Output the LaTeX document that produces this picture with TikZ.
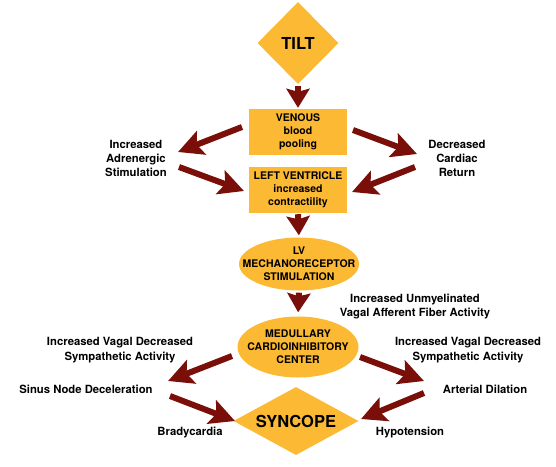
\documentclass[tikz,border=0pt]{standalone}
\usepackage{fontspec}
\setmainfont{TeX Gyre Heros}
\usetikzlibrary{arrows.meta,shapes.geometric}
\definecolor{boxfill}{RGB}{252,185,52}
\definecolor{arrowred}{RGB}{122,14,8}
\begin{document}
\begin{tikzpicture}[x=1pt,y=-1pt,
  bigarrow/.style={draw=arrowred, line width=6pt, -{Stealth[length=25pt,width=25pt,inset=5pt,fill=arrowred]}},
  vertarrow/.style={draw=arrowred, line width=6pt, -{Stealth[length=19pt,width=23pt,inset=3pt,fill=arrowred]}},
  boxnode/.style={rectangle, fill=boxfill, minimum width=98pt, minimum height=46pt, inner sep=0pt, align=center, font=\fontsize{10.5}{13}\selectfont\bfseries},
  ellnode/.style={ellipse, fill=boxfill, inner sep=0pt},
  elltext/.style={align=center, inner sep=0pt, font=\fontsize{10.5}{13.2}\selectfont\bfseries},
  lbl/.style={align=center, inner sep=1pt, font=\fontsize{11.3}{14}\selectfont\bfseries}]
\useasboundingbox (0,0) rectangle (556,466);
% main nodes
\node[diamond, fill=boxfill, aspect=1, minimum width=81pt, minimum height=82pt, inner sep=0pt,
      font=\fontsize{16.5}{18}\selectfont\bfseries] (tilt) at (298,43) {TILT};
\node[boxnode] (venous) at (298,132) {VENOUS\\blood\\pooling};
\node[boxnode] (lvbox) at (298,190) {LEFT VENTRICLE\\increased\\contractility};
\node[ellnode, minimum width=120pt, minimum height=53pt] (lv) at (299,264) {};
\node[elltext] (lvtext) at (lv.center) {LV\\MECHANORECEPTOR\\STIMULATION};
\node[ellnode, minimum width=121pt, minimum height=61pt] (med) at (298,347) {};
\node[elltext] (medtext) at (med.center) {MEDULLARY\\CARDIOINHIBITORY\\CENTER};
\node[diamond, fill=boxfill, aspect=1.8, minimum width=125pt, minimum height=68pt, inner sep=0pt,
      font=\fontsize{16.5}{18}\selectfont\bfseries] (syn) at (296,421) {SYNCOPE};
% labels
\node[lbl] (adr) at (136,158) {Increased\\Adrenergic\\Stimulation};
\node[lbl] (dcr) at (457,158) {Decreased\\Cardiac\\Return};
\node[lbl, font=\fontsize{11.3}{13.4}\selectfont\bfseries] (unmy) at (415,306.5) {Increased Unmyelinated\\Vagal Afferent Fiber Activity};
\node[lbl, font=\fontsize{11.3}{15}\selectfont\bfseries] (vagl) at (120,350.5) {Increased Vagal Decreased\\Sympathetic Activity};
\node[lbl, font=\fontsize{11.3}{15}\selectfont\bfseries] (vagr) at (468,350.5) {Increased Vagal Decreased\\Sympathetic Activity};
\node[lbl] (sinus) at (86,389) {Sinus Node Deceleration};
\node[lbl] (brady) at (190,433) {Bradycardia};
\node[lbl] (art) at (485,389) {Arterial Dilation};
\node[lbl] (hypo) at (410,433) {Hypotension};
% arrow end points
\coordinate (a1s) at (242,127); \coordinate (a1e) at (178,152);
\coordinate (a2s) at (179,167); \coordinate (a2e) at (244,191);
\coordinate (a3s) at (353,130); \coordinate (a3e) at (417,154);
\coordinate (a4s) at (415,167); \coordinate (a4e) at (352,192);
\coordinate (b1s) at (232,356); \coordinate (b1e) at (168,381);
\coordinate (b2s) at (170,396); \coordinate (b2e) at (235,421);
\coordinate (b3s) at (360,357); \coordinate (b3e) at (424,381);
\coordinate (b4s) at (424,393); \coordinate (b4e) at (361,419);
% vertical arrows
\draw[vertarrow, shorten <=2pt, shorten >=1pt] (tilt.south) -- (venous.north);
\draw[vertarrow, shorten <=1pt, shorten >=2pt] (lvbox.south) -- (lv.north);
\draw[vertarrow, shorten <=2pt, shorten >=4pt] (lv.south) -- (med.north);
% diagonal arrows
\draw[bigarrow] (a1s) -- (a1e);
\draw[bigarrow] (a2s) -- (a2e);
\draw[bigarrow] (a3s) -- (a3e);
\draw[bigarrow] (a4s) -- (a4e);
\draw[bigarrow] (b1s) -- (b1e);
\draw[bigarrow] (b2s) -- (b2e);
\draw[bigarrow] (b3s) -- (b3e);
\draw[bigarrow] (b4s) -- (b4e);
\end{tikzpicture}
\end{document}
